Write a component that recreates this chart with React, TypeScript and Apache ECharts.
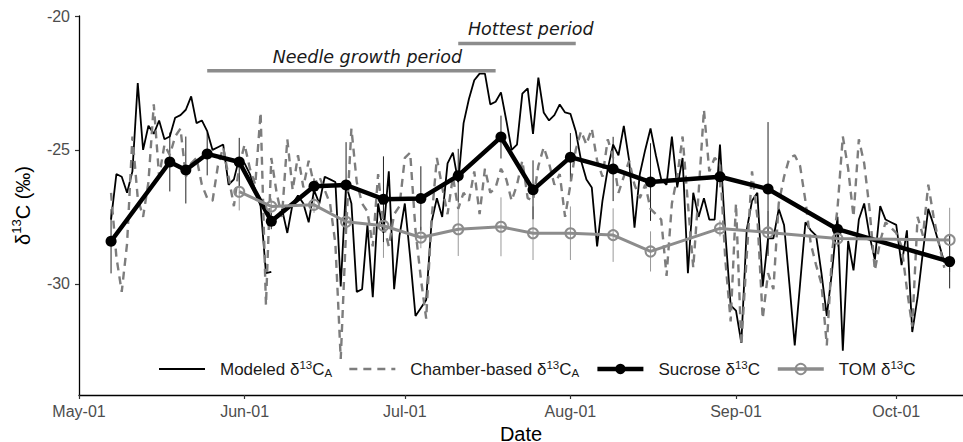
import React, { useEffect, useRef } from "react";
import * as echarts from "echarts";

const DAY = 86400000;
const t = (s: string) => Date.parse(s + "T00:00:00Z");

// daily series start on this date, one value per day
const dailyStart = "2019-05-07";
const modeledValues: (number | null)[] = [
  -27.6, -25.9, -26.0, -26.6, -25.8, -22.5, -25.0, -24.1, -24.4, -23.9,
  -24.6, -24.5, -23.8, -23.7, -23.5, -23.0, -24.0, -23.9, -24.3, -25.0,
  -24.9, -24.8, -26.3, -26.1, -25.3, -25.5, -25.9, -26.5, -27.1, -29.6,
  -29.55, null, -27.2, -28.1, -27.0, -26.7, -27.0, -27.7, -26.5, -27.0,
  -26.0, -26.1, -26.2, -30.1, -26.3, -27.0, -30.3, -30.2, -27.8, -30.5,
  -27.0, -28.1, -25.8, -30.2, -28.2, -27.0, -29.0, -31.2, -30.9, -30.6,
  -27.7, -26.8, -27.5, -25.5, -25.1, -26.2, -24.0, -23.1, -22.4, -22.15,
  -22.15, -23.3, -23.2, -22.85, -23.9, -25.0, -24.8, -22.9, -22.7, -24.4,
  -22.3, -23.6, -23.9, -23.7, -23.3, -23.6, -23.65, -24.3, -25.4, -26.1,
  -26.4, -28.6, -26.9, -25.7, -24.8, -25.2, -24.1, -25.4, -27.9, -25.9,
  -25.0, -24.2, -25.2, -26.1, -26.3, -24.5, -26.4, -25.3, -29.6, -26.6,
  -27.5, -26.8, -27.6, -27.6, -24.8, -28.1, -30.8, -31.0, -32.2, -28.0,
  -26.9, -26.6, -30.1, -28.3, -28.3, -27.2, -27.8, -30.0, -32.3, -30.0,
  -27.7, -28.0, -28.2, -29.6, -31.2, -29.5, -27.5, -32.5, -28.4, -29.5,
  -27.6, -27.0, -28.2, -29.1, -27.1, -27.6, -27.7, -27.8, -29.3, -28.0,
  -31.8, -30.5, -28.8, -27.2, -27.8, -28.5, -29.2,
];
const chamberValues: (number | null)[] = [
  -26.6, -29.0, -30.3, -28.5, -24.5, -26.8, -27.5, -26.2, -23.3, -26.0,
  -24.8, -25.2, -24.5, -24.2, -26.0, -25.5, -25.3, -26.3, -26.8, -26.9,
  -25.6, -24.9, -26.0, -27.1, -25.6, -24.8, -25.7, -26.3, -23.6, -30.8,
  -25.3, -26.6, -27.5, -24.6, -26.5, -25.2, -26.4, -25.4, -26.3, -26.0,
  -26.5, -27.0, -28.5, -32.8, -28.0, -24.2, -26.2, -27.0, -27.3, -28.6,
  -25.9, -27.8, -28.6, -27.4, -27.1, -25.3, -25.1, -28.0, -29.8, -31.3,
  -27.6, -25.3, -26.4, -27.4, -26.0, -27.2, -26.6, -26.9, -25.8, -27.4,
  -25.7, -26.6, -26.4, -25.7, -26.1, -26.9, -26.3, -25.4, -26.8, -26.9,
  -25.6, -24.9, -25.5, -26.3, -25.9, -27.5, -26.3, -25.0, -24.3, -24.8,
  -24.2, -25.4, -26.0, -24.6, -25.3, -26.6, -26.0, -25.4, -26.3, -26.8,
  -26.3, -27.2, -27.4, -27.6, -29.7, -27.0, -26.0, -24.5, -27.0, -29.4,
  -26.6, -23.5, -25.8, -25.3, -25.5, -29.1, -31.4, -27.0, -32.3, -29.0,
  -25.8, -27.5, -31.3, -29.6, -30.2, -27.0, -26.0, -25.3, -25.2, -25.6,
  -26.9, -28.5, -29.3, -30.0, -32.3, -28.8, -27.2, -24.5, -25.7, -27.5,
  -24.6, -25.5, -27.2, -29.5, -28.4, -27.7, -27.9, -28.1, -28.6, -30.2,
  -31.6, -27.5, -28.2, -26.3, -27.5, -28.5, -29.4,
];

const sucroseDates = [
  "2019-05-07", "2019-05-18", "2019-05-21", "2019-05-25", "2019-05-31",
  "2019-06-06", "2019-06-14", "2019-06-20", "2019-06-27", "2019-07-04",
  "2019-07-11", "2019-07-19", "2019-07-25", "2019-08-01", "2019-08-09",
  "2019-08-16", "2019-08-29", "2019-09-07", "2019-09-20", "2019-10-11",
];
const sucroseValues = [
  -28.41, -25.45, -25.75, -25.15, -25.45, -27.66, -26.36, -26.31, -26.84, -26.81,
  -25.96, -24.52, -26.49, -25.27, -25.71, -26.2, -26.0, -26.46, -27.96, -29.17,
];
const sucroseSD = [
  1.2, 1.1, 1.25, 0.8, 0.9, 0.3, 0.3, 1.6, 1.6, 1.2,
  1.0, 0.8, 1.1, 0.9, 1.2, 1.45, 0.4, 2.5, 0.4, 1.0,
];

const tomDates = [
  "2019-05-31", "2019-06-06", "2019-06-14", "2019-06-20", "2019-06-27",
  "2019-07-04", "2019-07-11", "2019-07-19", "2019-07-25", "2019-08-01",
  "2019-08-09", "2019-08-16", "2019-08-29", "2019-09-07", "2019-09-20", "2019-10-11",
];
const tomValues = [
  -26.56, -27.11, -27.05, -27.68, -27.83, -28.27, -27.96, -27.87, -28.11, -28.11,
  -28.18, -28.79, -27.93, -28.08, -28.31, -28.36,
];
const tomSD = [0.7, 0.3, 0.3, 0.4, 1.2, 0.4, 1.0, 1.1, 1.0, 1.0, 1.0, 0.75, 0.3, 0.8, 0.3, 1.2];

const monthTicks = ["2019-05-01", "2019-06-01", "2019-07-01", "2019-08-01", "2019-09-01", "2019-10-01"];
const monthLabels = ["May-01", "Jun-01", "Jul-01", "Aug-01", "Sep-01", "Oct-01"];
const yTicks = [-30, -25, -20];

const periodLabels = ["Needle growth period", "Hottest period"];
const periodStart = ["2019-05-25", "2019-07-11"];
const periodEnd = ["2019-07-18", "2019-08-02"];
const periodLevel = [-22.04, -21.03];
const periodLabelDate = ["2019-06-24", "2019-07-24T14:00:00"];
const periodLabelLevel = [-21.53, -20.5];

const legendText: Record<string, string> = {
  modeled: "Modeled δ{sup|13}C{sub|A}",
  chamber: "Chamber-based δ{sup|13}C{sub|A}",
  sucrose: "Sucrose δ{sup|13}C",
  tom: "TOM δ{sup|13}C",
};

const xMinDate = "2019-05-01";
const xSpanDays = 165.5;

function daily(values: (number | null)[]) {
  const s = t(dailyStart);
  return values.map((v, i) => [s + i * DAY, v]);
}

export default function App() {
  const ref = useRef<HTMLDivElement>(null);
  useEffect(() => {
    if (!ref.current) return;
    const chart = echarts.init(ref.current, null, { renderer: "svg" });
    const xMin = t(xMinDate);
    const xMax = xMin + xSpanDays * DAY;
    const tickVals = monthTicks.map(t);
    const pt = (s: string) => (s.length > 10 ? Date.parse(s + "Z") : t(s));

    const errRender = (color: string) => (params: any, api: any) => {
      const x = api.value(0);
      const p1 = api.coord([x, api.value(1)]);
      const p2 = api.coord([x, api.value(2)]);
      return {
        type: "line",
        shape: { x1: p1[0], y1: p1[1], x2: p2[0], y2: p2[1] },
        style: { stroke: color, lineWidth: 1 },
      };
    };

    const textFont = "Liberation Sans, Arial, sans-serif";
    const dash = [8, 6];
    const chamberColor = "#7d7d7d";

    const option: any = {
      animation: false,
      backgroundColor: "#fff",
      grid: { left: 79, right: 0, top: 16, bottom: 47, containLabel: false, outerBoundsMode: "none" },
      xAxis: {
        type: "value",
        min: xMin,
        max: xMax,
        name: "Date",
        nameLocation: "middle",
        nameGap: 27,
        nameTextStyle: { fontSize: 20, color: "#000", fontFamily: textFont },
        axisLine: { show: true, lineStyle: { color: "#000", width: 1.3 } },
        axisTick: { show: true, length: 4, customValues: tickVals, lineStyle: { color: "#333", width: 1.2 } },
        axisLabel: {
          customValues: tickVals,
          margin: 8,
          fontSize: 16,
          color: "#4d4d4d",
          fontFamily: textFont,
          formatter: (v: number) => {
            const i = tickVals.indexOf(v);
            return i >= 0 ? monthLabels[i] : "";
          },
        },
        splitLine: { show: false },
      },
      yAxis: {
        type: "value",
        min: -34.15,
        max: -20,
        name: "δ{sup|13}C (‰)",
        nameLocation: "middle",
        nameRotate: 90,
        nameGap: 43,
        nameTextStyle: {
          fontSize: 20,
          lineHeight: 26,
          color: "#000",
          fontFamily: textFont,
          rich: { sup: { fontSize: 13, lineHeight: 14, verticalAlign: "top", color: "#000", fontFamily: textFont } },
        },
        axisLine: { show: true, lineStyle: { color: "#000", width: 1.3 } },
        axisTick: { show: true, length: 4, customValues: yTicks, lineStyle: { color: "#333", width: 1.2 } },
        axisLabel: {
          customValues: yTicks,
          margin: 9,
          fontSize: 16,
          color: "#4d4d4d",
          fontFamily: textFont,
        },
        splitLine: { show: false },
      },
      legend: {
        left: 158,
        top: 359,
        padding: 0,
        itemWidth: 46,
        itemHeight: 13,
        itemGap: 16,
        data: [
          { name: "modeled", itemStyle: { opacity: 0 }, lineStyle: { width: 2, color: "#000" } },
          { name: "chamber", itemStyle: { opacity: 0 }, lineStyle: { width: 2.4, color: chamberColor, type: dash } },
          { name: "sucrose", lineStyle: { width: 4.5, color: "#000" } },
          { name: "tom", lineStyle: { width: 3.5, color: "#8c8c8c" } },
        ],
        formatter: (name: string) => legendText[name],
        textStyle: {
          fontSize: 17,
          lineHeight: 20,
          color: "#1a1a1a",
          fontFamily: textFont,
          padding: [0, 0, 0, 10],
          rich: {
            sup: { fontSize: 11.5, lineHeight: 12, verticalAlign: "top", color: "#1a1a1a", fontFamily: textFont },
            sub: { fontSize: 11.5, lineHeight: 12, verticalAlign: "bottom", color: "#1a1a1a", fontFamily: textFont },
          },
        },
      },
      series: [
        {
          type: "custom",
          name: "tomErr",
          silent: true,
          renderItem: errRender("#999"),
          encode: { x: 0, y: [1, 2] },
          data: tomDates.map((d, i) => [t(d), tomValues[i] - tomSD[i], tomValues[i] + tomSD[i]]),
          z: 1,
        },
        {
          type: "custom",
          name: "sucErr",
          silent: true,
          renderItem: errRender("#222"),
          encode: { x: 0, y: [1, 2] },
          data: sucroseDates.map((d, i) => [t(d), sucroseValues[i] - sucroseSD[i], sucroseValues[i] + sucroseSD[i]]),
          z: 1,
        },
        {
          type: "line",
          name: "modeled",
          data: daily(modeledValues),
          showSymbol: false,
          symbol: "none",
          connectNulls: false,
          lineStyle: { color: "#000", width: 1.8 },
          itemStyle: { color: "#000" },
          z: 2,
        },
        {
          type: "line",
          name: "chamber",
          data: daily(chamberValues),
          showSymbol: false,
          symbol: "none",
          lineStyle: { color: chamberColor, width: 2.4, type: dash },
          itemStyle: { color: chamberColor },
          z: 3,
        },
        {
          type: "line",
          name: "sucrose",
          data: sucroseDates.map((d, i) => [t(d), sucroseValues[i]]),
          symbol: "circle",
          symbolSize: 11,
          lineStyle: { color: "#000", width: 4.5 },
          itemStyle: { color: "#000" },
          z: 4,
        },
        {
          type: "line",
          name: "tom",
          data: tomDates.map((d, i) => [t(d), tomValues[i]]),
          symbol: "circle",
          symbolSize: 10,
          lineStyle: { color: "#8c8c8c", width: 3 },
          itemStyle: { color: "rgba(0,0,0,0)", borderColor: "#8c8c8c", borderWidth: 2 },
          z: 5,
        },
        {
          type: "custom",
          name: "periods",
          silent: true,
          encode: { x: 0, y: 2 },
          data: periodLabels.map((l, i) => [t(periodStart[i]), t(periodEnd[i]), periodLevel[i], pt(periodLabelDate[i]), periodLabelLevel[i], i]),
          renderItem: (params: any, api: any) => {
            const i = api.value(5);
            const a = api.coord([api.value(0), api.value(2)]);
            const b = api.coord([api.value(1), api.value(2)]);
            const c = api.coord([api.value(3), api.value(4)]);
            return {
              type: "group",
              children: [
                {
                  type: "line",
                  shape: { x1: a[0], y1: a[1], x2: b[0], y2: b[1] },
                  style: { stroke: "#8c8c8c", lineWidth: 3.5 },
                },
                {
                  type: "text",
                  style: {
                    text: periodLabels[i],
                    x: c[0],
                    y: c[1],
                    align: "center",
                    verticalAlign: "middle",
                    fontSize: 17.5,
                    fontStyle: "italic",
                    fontFamily: "DejaVu Sans",
                    fill: "#1a1a1a",
                  },
                },
              ],
            };
          },
          z: 6,
        },
      ],
    };
    chart.setOption(option);
    return () => chart.dispose();
  }, []);
  return <div ref={ref} style={{ position: "absolute", left: 0, top: 0, width: 963, height: 442 }} />;
}
